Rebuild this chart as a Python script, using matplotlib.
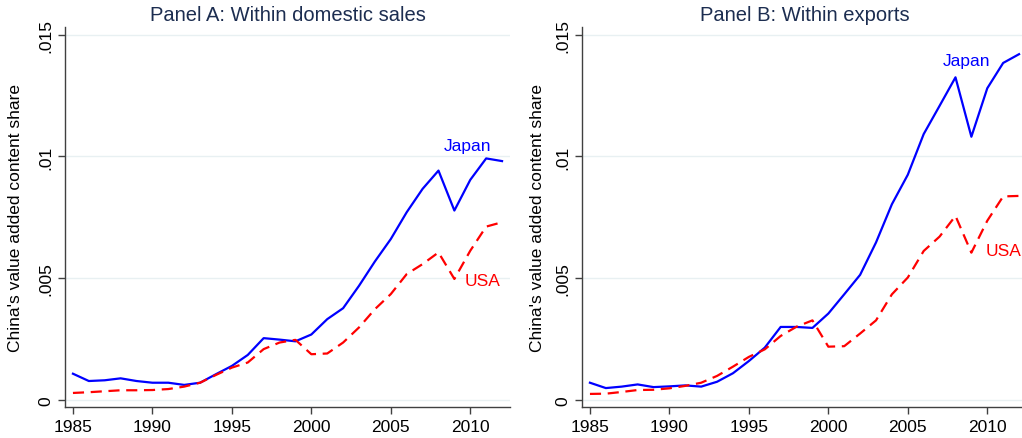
import matplotlib
matplotlib.use("Agg")
from matplotlib import pyplot as plt

plt.rcParams['font.family'] = ['Liberation Sans', 'DejaVu Sans']

years = list(range(1985, 2013))

# Panel A: within domestic sales
japan_dom = [0.00108, 0.00078, 0.00081, 0.00089, 0.00078, 0.00071, 0.00071, 0.00062,
             0.00071, 0.00106, 0.00140, 0.00185, 0.00254, 0.00248, 0.00241, 0.00269,
             0.00332, 0.00377, 0.00469, 0.00569, 0.00661, 0.00771, 0.00867, 0.00942,
             0.00778, 0.00904, 0.00992, 0.00981]
usa_dom = [0.00029, 0.00032, 0.00036, 0.00040, 0.00040, 0.00041, 0.00045, 0.00055,
           0.00071, 0.00103, 0.00133, 0.00154, 0.00209, 0.00236, 0.00247, 0.00188,
           0.00191, 0.00236, 0.00298, 0.00373, 0.00435, 0.00517, 0.00558, 0.00606,
           0.00497, 0.00613, 0.00712, 0.00730]

# Panel B: within exports
japan_exp = [0.00071, 0.00049, 0.00055, 0.00064, 0.00053, 0.00056, 0.00060, 0.00055,
             0.00075, 0.00110, 0.00160, 0.00215, 0.00300, 0.00300, 0.00296, 0.00355,
             0.00434, 0.00514, 0.00647, 0.00804, 0.00925, 0.01092, 0.01208, 0.01325,
             0.01081, 0.01280, 0.01384, 0.01420]
usa_exp = [0.00025, 0.00026, 0.00033, 0.00041, 0.00042, 0.00048, 0.00058, 0.00071,
           0.00099, 0.00137, 0.00177, 0.00208, 0.00263, 0.00301, 0.00327, 0.00219,
           0.00221, 0.00273, 0.00327, 0.00434, 0.00503, 0.00612, 0.00671, 0.00756,
           0.00605, 0.00736, 0.00836, 0.00838]

x_ticks = [1985, 1990, 1995, 2000, 2005, 2010]
y_ticks = [0, 0.005, 0.01, 0.015]
y_tick_labels = ['0', '.005', '.01', '.015']

W, H = 1022, 439
fig = plt.figure(figsize=(W / 100, H / 100), dpi=100)

panels = [
    # title, japan, usa, left px, japan label, usa label, ylabel x
    ('Panel A: Within domestic sales', japan_dom, usa_dom, 65,
     (2009.8, 0.01043, 'center'), (2010.75, 0.00489, 'center'), -0.094),
    ('Panel B: Within exports', japan_exp, usa_exp, 582,
     (2008.7, 0.01393, 'center'), (2009.9, 0.00612, 'left'), -0.083),
]

title_color = '#1c2d50'
for title, jp, us, left, jlab, ulab, ylx in panels:
    ax = fig.add_axes([left / W, (H - 408) / H, 445 / W, 380 / H])
    ax.plot(years, jp, color='#0000ff', linewidth=1.6)
    ax.plot(years, us, color='#ff0000', linewidth=1.6, linestyle=(0, (5, 3)))
    ax.text(jlab[0], jlab[1], 'Japan', color='#0000ff', fontsize=12.5,
            ha=jlab[2], va='center')
    ax.text(ulab[0], ulab[1], 'USA', color='#ff0000', fontsize=12.5,
            ha=ulab[2], va='center')
    ax.set_xlim(1984.5, 2012.5)
    ax.set_ylim(-0.000287, 0.015316)
    ax.set_xticks(x_ticks)
    ax.set_yticks(y_ticks)
    ax.set_yticklabels(y_tick_labels, rotation=90, va='center')
    ax.tick_params(axis='both', labelsize=12.5, length=5, width=1, color='#404040',
                   labelcolor='black')
    ax.grid(axis='y', color='#e8f0f2', linewidth=1)
    ax.set_axisbelow(True)
    for s in ['top', 'right']:
        ax.spines[s].set_visible(False)
    for s in ['left', 'bottom']:
        ax.spines[s].set_color('#404040')
        ax.spines[s].set_linewidth(1)
    ax.set_ylabel("China's value added content share", fontsize=12.5)
    ax.yaxis.set_label_coords(ylx, 0.5)
    ax.set_title(title, fontsize=14.5, color=title_color, pad=5)

fig.savefig('out.png', dpi=100)
